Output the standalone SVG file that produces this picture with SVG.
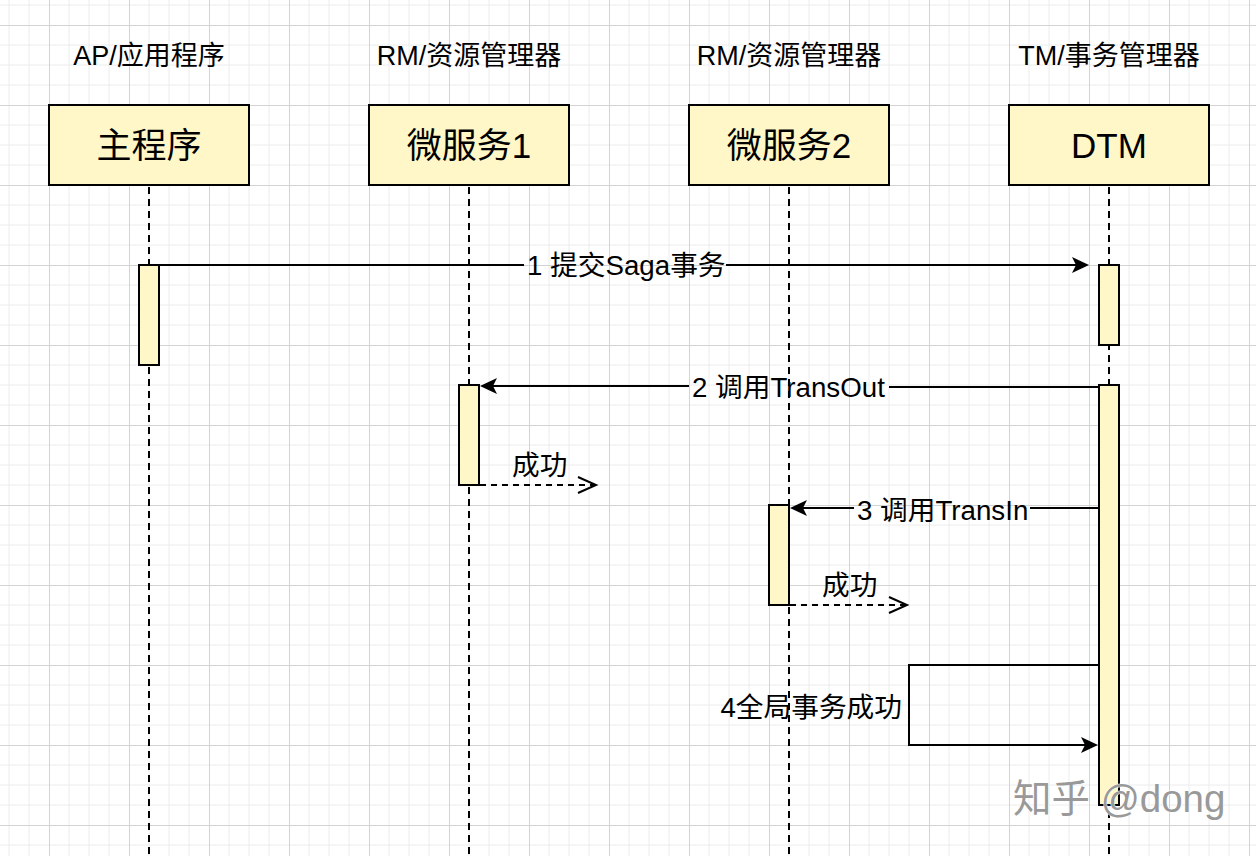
<svg xmlns="http://www.w3.org/2000/svg" width="1256" height="856" viewBox="0 0 1256 856">
  <style>
    text { font-family: "Liberation Sans", "Noto Sans CJK SC", sans-serif; fill: #000; }
    .hdr { font-size: 27px; text-anchor: middle; }
    .box { fill: #fff7c7; stroke: #000; stroke-width: 2; }
    .boxtxt { font-size: 35px; text-anchor: middle; }
    .life { stroke: #000; stroke-width: 2; stroke-dasharray: 7 5; fill: none; }
    .act { fill: #fff7c7; stroke: #000; stroke-width: 2; }
    .msg { stroke: #000; stroke-width: 2; fill: none; }
    .ret { stroke: #000; stroke-width: 2; fill: none; stroke-dasharray: 6 5; }
    .lbl { font-size: 27.7px; }
    .wm { font-size: 38.5px; fill: #999999; stroke: #ffffff; stroke-width: 1; paint-order: stroke; }
  </style>
  <defs>
    <pattern id="grid" x="49" y="25" width="80" height="80" patternUnits="userSpaceOnUse">
      <path d="M20,0 V80 M40,0 V80 M60,0 V80 M0,20 H80 M0,40 H80 M0,60 H80" stroke="#ececec" stroke-width="1" fill="none"/>
      <path d="M0.5,0 V80 M0,0.5 H80" stroke="#d3d3d3" stroke-width="1" fill="none"/>
    </pattern>
    <marker id="block" markerUnits="userSpaceOnUse" viewBox="-16 -10 22 20" markerWidth="22" markerHeight="20" refX="0" refY="0" orient="auto">
      <path d="M4,0 L-13,-8 L-9,0 L-13,8 Z" fill="#000" stroke="none"/>
    </marker>
    <marker id="open" markerUnits="userSpaceOnUse" viewBox="-20 -10 24 20" markerWidth="24" markerHeight="20" refX="0" refY="0" orient="auto">
      <path d="M-18,-8 L0,0 L-18,8" fill="none" stroke="#000" stroke-width="2" stroke-dasharray="none"/>
    </marker>
  </defs>

  <rect x="0" y="0" width="1256" height="856" fill="#ffffff"/>
  <rect x="0" y="0" width="1256" height="856" fill="url(#grid)"/>

  <!-- Lifelines (participants) -->
  <g id="node-ap">
    <text class="hdr" x="149" y="65">AP/应用程序</text>
    <line class="life" x1="149" y1="187" x2="149" y2="856"/>
    <rect class="box" x="49" y="105" width="200" height="80"/>
    <text class="boxtxt" x="149" y="158">主程序</text>
  </g>
  <g id="node-rm1">
    <text class="hdr" x="469" y="65">RM/资源管理器</text>
    <line class="life" x1="469" y1="187" x2="469" y2="856"/>
    <rect class="box" x="369" y="105" width="200" height="80"/>
    <text class="boxtxt" x="469" y="158">微服务1</text>
  </g>
  <g id="node-rm2">
    <text class="hdr" x="789" y="65">RM/资源管理器</text>
    <line class="life" x1="789" y1="187" x2="789" y2="856"/>
    <rect class="box" x="689" y="105" width="200" height="80"/>
    <text class="boxtxt" x="789" y="158">微服务2</text>
  </g>
  <g id="node-tm">
    <text class="hdr" x="1109" y="65">TM/事务管理器</text>
    <line class="life" x1="1109" y1="187" x2="1109" y2="856"/>
    <rect class="box" x="1009" y="105" width="200" height="80"/>
    <text class="boxtxt" x="1109" y="158">DTM</text>
  </g>

  <!-- Activations -->
  <g id="act-ap"><rect class="act" x="139" y="265" width="20" height="100"/></g>
  <g id="act-tm1"><rect class="act" x="1099" y="265" width="20" height="80"/></g>
  <g id="act-tm2"><rect class="act" x="1099" y="385" width="20" height="420"/></g>
  <g id="act-rm1"><rect class="act" x="459" y="385" width="20" height="100"/></g>
  <g id="act-rm2"><rect class="act" x="769" y="505" width="20" height="100"/></g>

  <!-- Connectors -->
  <g id="connectors">
    <g id="msg1">
      <line class="msg" x1="159" y1="265" x2="524" y2="265"/>
      <line class="msg" x1="726" y1="265" x2="1085" y2="265" marker-end="url(#block)"/>
      <text class="lbl" x="527" y="275">1 提交Saga事务</text>
    </g>
    <g id="msg2">
      <line class="msg" x1="1099" y1="387" x2="889" y2="387"/>
      <line class="msg" x1="689" y1="386" x2="484" y2="386" marker-end="url(#block)"/>
      <text class="lbl" x="692" y="397">2 调用TransOut</text>
    </g>
    <g id="ret1">
      <line class="ret" x1="480" y1="485" x2="596" y2="485" marker-end="url(#open)"/>
      <text class="lbl" x="512" y="475">成功</text>
    </g>
    <g id="msg3">
      <line class="msg" x1="1099" y1="508" x2="1030" y2="508"/>
      <line class="msg" x1="854" y1="508" x2="794" y2="508" marker-end="url(#block)"/>
      <text class="lbl" x="857" y="520">3 调用TransIn</text>
    </g>
    <g id="ret2">
      <line class="ret" x1="790" y1="605" x2="907" y2="605" marker-end="url(#open)"/>
      <text class="lbl" x="822" y="595">成功</text>
    </g>
    <g id="msg4">
      <path class="msg" d="M1099,665 H909 V745 H1094" marker-end="url(#block)"/>
      <text class="lbl" x="902" y="717" text-anchor="end">4全局事务成功</text>
    </g>
  </g>

  <text class="wm" x="1013" y="812">知乎 @dong</text>
</svg>
